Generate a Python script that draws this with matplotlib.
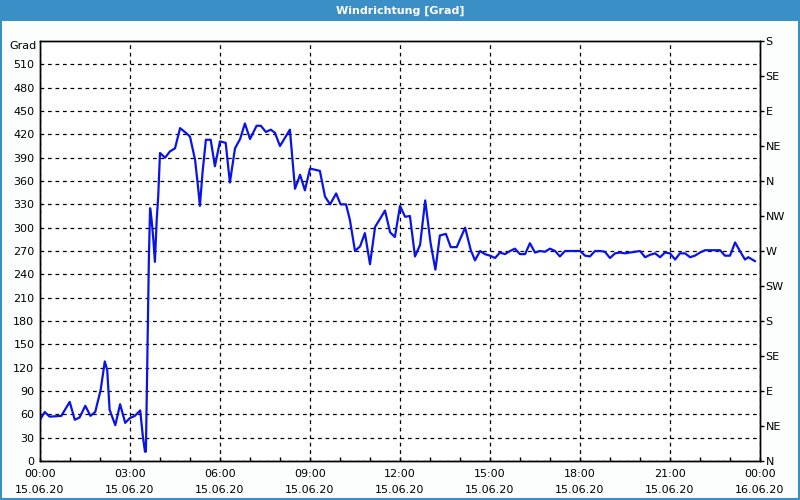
import numpy as np
import matplotlib
matplotlib.use('Agg')
import matplotlib.pyplot as plt
from matplotlib.patches import Rectangle

# time in hours since 15.06.20 00:00 and wind direction in degrees
hours = [0.0, 0.16, 0.32, 0.71, 0.99, 1.16, 1.32, 1.51, 1.68, 1.84,
         2.02, 2.16, 2.24, 2.32, 2.51, 2.67, 2.84, 2.99, 3.16, 3.34,
         3.43, 3.5, 3.53, 3.58, 3.63, 3.67, 3.72, 3.78, 3.83, 3.89,
         3.94, 4.0, 4.17, 4.33, 4.5, 4.67, 4.89, 5.0, 5.17, 5.28,
         5.33, 5.42, 5.53, 5.69, 5.83, 6.0, 6.19, 6.33, 6.5, 6.67,
         6.83, 7.0, 7.22, 7.36, 7.53, 7.69, 7.83, 8.0, 8.33, 8.5,
         8.67, 8.83, 9.0, 9.33, 9.5, 9.67, 9.87, 10.02, 10.2, 10.33,
         10.5, 10.67, 10.83, 11.0, 11.17, 11.33, 11.5, 11.67, 11.83, 12.0,
         12.17, 12.33, 12.5, 12.67, 12.84, 13.02, 13.18, 13.33, 13.53, 13.69,
         13.89, 14.17, 14.36, 14.5, 14.67, 14.83, 15.0, 15.17, 15.33, 15.5,
         15.67, 15.83, 16.0, 16.17, 16.33, 16.5, 16.67, 16.83, 17.0, 17.17,
         17.33, 17.5, 18.0, 18.17, 18.33, 18.5, 18.67, 18.83, 19.0, 19.17,
         19.33, 19.5, 19.67, 19.83, 20.0, 20.17, 20.33, 20.5, 20.67, 20.83,
         21.0, 21.17, 21.33, 21.5, 21.67, 21.83, 22.0, 22.17, 22.67, 22.83,
         23.0, 23.17, 23.33, 23.5, 23.61, 23.83]
degrees = [53, 63, 57, 58, 76, 53, 56, 71, 58, 63,
           91, 128, 117, 66, 46, 73, 49, 55, 58, 65,
           31, 12, 12, 140, 262, 325, 310, 284, 256, 310,
           340, 396, 390, 398, 402, 428, 421, 417, 387, 348,
           328, 372, 413, 413, 379, 411, 409, 358, 402, 414,
           434, 414, 431, 431, 423, 426, 422, 405, 426, 350,
           368, 348, 376, 373, 340, 330, 344, 330, 330, 310,
           270, 276, 293, 253, 301, 311, 322, 294, 288, 328,
           314, 315, 263, 278, 335, 280, 246, 290, 292, 275,
           275, 300, 271, 258, 270, 266, 264, 261, 268, 266,
           270, 273, 266, 266, 280, 268, 270, 269, 273, 270,
           263, 270, 270, 264, 263, 270, 270, 269, 261, 267,
           268, 267, 268, 269, 270, 262, 265, 267, 262, 268,
           267, 259, 267, 267, 262, 264, 268, 271, 271, 264,
           264, 281, 270, 259, 262, 257]

x_ticks = [0, 3, 6, 9, 12, 15, 18, 21, 24]
x_labels = ['00:00\n15.06.20', '03:00\n15.06.20', '06:00\n15.06.20',
            '09:00\n15.06.20', '12:00\n15.06.20', '15:00\n15.06.20',
            '18:00\n15.06.20', '21:00\n15.06.20', '00:00\n16.06.20']
compass = ['N', 'NE', 'E', 'SE', 'S', 'SW', 'W', 'NW', 'N', 'NE', 'E', 'SE', 'S']

blue = '#3b8fc7'
fig = plt.figure(figsize=(8, 5), dpi=100, facecolor='#fcfdfd')

# title bar and frame
fig.patches.append(Rectangle((0, 1 - 21/500), 1, 21/500, transform=fig.transFigure,
                             facecolor=blue, edgecolor='none', zorder=0))
fig.patches.append(Rectangle((0.001, 0.002), 0.998, 0.99, transform=fig.transFigure,
                             facecolor='none', edgecolor=blue, lw=1.5, zorder=0))
fig.text(0.5, 1 - 10.5/500, 'Windrichtung [Grad]', color='white', fontsize=8,
         fontweight='bold', ha='center', va='center')

ax = fig.add_axes([40/800, 1 - 461/500, 720/800, 420/500])
ax.set_facecolor('white')
ax.plot(hours, degrees, color='#0a14e6', lw=1.6, zorder=3)

ax.set_xlim(0, 24)
ax.set_ylim(0, 540)
ax.set_xticks(x_ticks)
ax.set_xticklabels(x_labels, fontsize=8, linespacing=1.75)
ax.set_xticks(np.arange(0, 25, 1), minor=True)
ax.set_yticks(np.arange(0, 540, 30))
ax.tick_params(axis='x', which='both', direction='in', length=3, width=1, pad=6)
ax.tick_params(axis='y', length=0, labelsize=8, pad=4)
ax.grid(True, which='major', color='black', linestyle=(0, (3, 3)), lw=0.9)
for s in ax.spines.values():
    s.set_linewidth(1.0)

ax2 = ax.twinx()
ax2.set_ylim(0, 540)
ax2.set_yticks(np.arange(0, 541, 45))
ax2.set_yticklabels(compass, fontsize=8)
ax2.tick_params(axis='y', direction='out', length=3, width=1, pad=1)
for s in ax2.spines.values():
    s.set_linewidth(1.0)

fig.text(37/800, 1 - 46/500, 'Grad', fontsize=8, ha='right', va='center')

fig.savefig('out.png', dpi=100, facecolor=fig.get_facecolor())
